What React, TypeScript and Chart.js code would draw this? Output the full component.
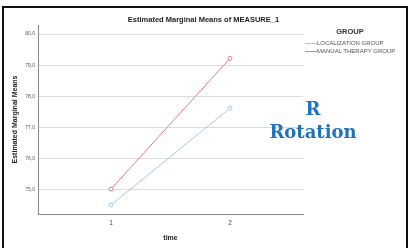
import React, { useEffect, useRef } from "react";
import { Chart, registerables } from "chart.js";

Chart.register(...registerables);

const times = [1, 2];
const localizationGroup = [74.52, 77.62];
const manualTherapyGroup = [75.03, 79.22];
const yTickValues = [75, 76, 77, 78, 79, 80];
const xTickValues = [1, 2];
const seriesNames = ["LOCALIZATION GROUP", "MANUAL THERAPY GROUP"];
const seriesColors = ["#a7c6ee", "#e7788e"];

export default function App() {
  const ref = useRef<HTMLCanvasElement | null>(null);

  useEffect(() => {
    document.body.style.margin = "0";
    const canvas = ref.current;
    if (!canvas) return;
    const toPts = (vals: number[]) => times.map((t, i) => ({ x: t, y: vals[i] }));
    const chart = new Chart(canvas, {
      type: "line",
      data: {
        datasets: [
          {
            label: seriesNames[0],
            data: toPts(localizationGroup),
            borderColor: seriesColors[0],
            backgroundColor: "#ffffff",
            borderWidth: 1,
            pointRadius: 2,
            pointBorderWidth: 1,
            pointBackgroundColor: "#ffffff",
            pointBorderColor: seriesColors[0],
          },
          {
            label: seriesNames[1],
            data: toPts(manualTherapyGroup),
            borderColor: seriesColors[1],
            backgroundColor: "#ffffff",
            borderWidth: 1,
            pointRadius: 2,
            pointBorderWidth: 1,
            pointBackgroundColor: "#ffffff",
            pointBorderColor: seriesColors[1],
          },
        ],
      },
      options: {
        animation: false,
        responsive: false,
        maintainAspectRatio: false,
        devicePixelRatio: 1,
        layout: { padding: { left: 0, top: 25, right: 106, bottom: 0 } },
        plugins: {
          legend: { display: false },
          title: { display: false },
          tooltip: { enabled: false },
        },
        scales: {
          x: {
            type: "linear",
            min: 0.386,
            max: 2.614,
            afterBuildTicks: (scale: any) => {
              scale.ticks = xTickValues.map((v) => ({ value: v }));
            },
            afterFit: (scale: any) => {
              scale.height = 34;
            },
            grid: { display: false, drawTicks: false, tickLength: 0 },
            border: { color: "#8a8a8a", width: 1 },
            ticks: {
              padding: 5,
              color: "#444",
              font: { family: "Liberation Sans", size: 6.5 },
              callback: (v: any) => String(v),
            },
            title: {
              display: true,
              text: "time",
              color: "#222",
              font: { family: "Liberation Sans", size: 7, weight: "bold" },
              padding: { top: 0, bottom: 6 },
            },
          },
          y: {
            type: "linear",
            min: 74.23,
            max: 80.29,
            afterBuildTicks: (scale: any) => {
              scale.ticks = yTickValues.map((v) => ({ value: v }));
            },
            afterFit: (scale: any) => {
              scale.width = 38;
            },
            grid: { color: "#dcdcdc", drawTicks: false, tickLength: 0 },
            border: { color: "#8a8a8a", width: 1 },
            ticks: {
              padding: 3,
              color: "#555",
              font: { family: "Liberation Sans", size: 5 },
              callback: (v: any) => Number(v).toFixed(1).replace(".", ","),
            },
            title: {
              display: true,
              text: "Estimated Marginal Means",
              color: "#222",
              font: { family: "Liberation Sans", size: 7, weight: "bold" },
              padding: { top: 11, bottom: 0 },
            },
          },
        },
      },
    });
    return () => chart.destroy();
  }, []);

  const legendText: React.CSSProperties = {
    position: "absolute",
    left: 317,
    fontFamily: "Liberation Sans",
    fontSize: 6,
    color: "#555",
    lineHeight: "7px",
    whiteSpace: "nowrap",
  };

  return (
    <div style={{ position: "relative", width: 409, height: 248, background: "#fff", overflow: "hidden" }}>
      <canvas ref={ref} width={409} height={248} style={{ position: "absolute", left: 0, top: 0, width: 409, height: 248 }} />
      <div
        style={{
          position: "absolute",
          left: 2,
          top: 6,
          width: 402,
          height: 260,
          borderLeft: "2px solid #111",
          borderTop: "2px solid #111",
          borderRight: "2px solid #111",
          pointerEvents: "none",
        }}
      />
      <div
        style={{
          position: "absolute",
          left: 0,
          width: 407,
          top: 15,
          textAlign: "center",
          fontFamily: "Liberation Sans",
          fontWeight: "bold",
          fontSize: 7.5,
          lineHeight: "10px",
          color: "#222",
          whiteSpace: "nowrap",
        }}
      >
        Estimated Marginal Means of MEASURE_1
      </div>
      <div
        style={{
          position: "absolute",
          left: 310,
          width: 80,
          top: 27,
          textAlign: "center",
          fontFamily: "Liberation Sans",
          fontWeight: "bold",
          fontSize: 7.5,
          lineHeight: "10px",
          color: "#333",
        }}
      >
        GROUP
      </div>
      <div style={{ position: "absolute", left: 305, top: 43, width: 12, height: 1, background: seriesColors[0] }} />
      <div style={{ position: "absolute", left: 305, top: 51, width: 12, height: 1, background: seriesColors[1] }} />
      <div style={{ ...legendText, top: 40 }}>{seriesNames[0]}</div>
      <div style={{ ...legendText, top: 48 }}>{seriesNames[1]}</div>
      <div
        style={{
          position: "absolute",
          left: 262,
          width: 102,
          top: 97,
          textAlign: "center",
          fontFamily: "DejaVu Serif",
          fontWeight: "bold",
          fontSize: 18,
          lineHeight: "23px",
          color: "#1f72bf",
        }}
      >
        R
        <br />
        Rotation
      </div>
    </div>
  );
}
